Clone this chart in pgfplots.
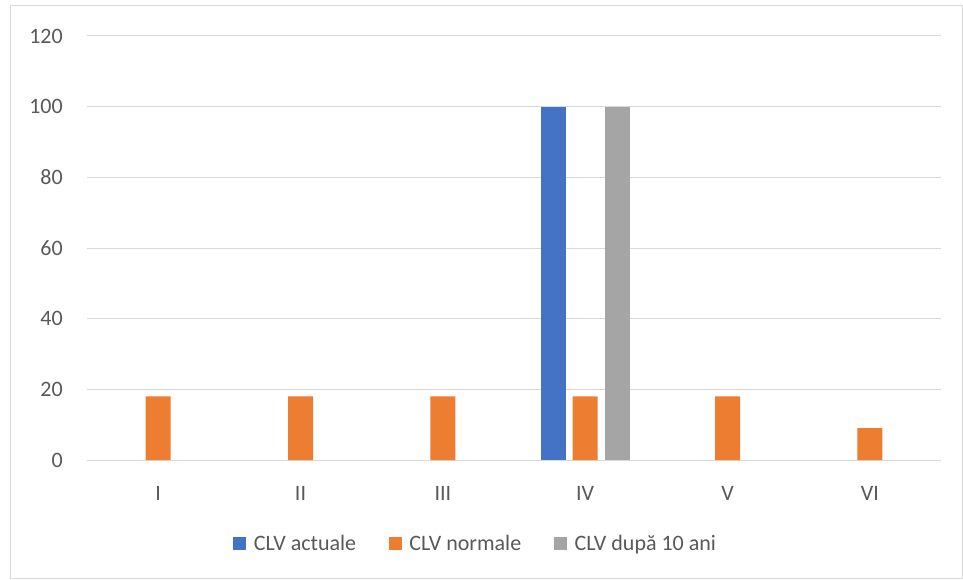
\documentclass[border=0pt]{standalone}
\usepackage{fontspec}
\setmainfont{Carlito}
\usepackage{pgfplots}
\pgfplotsset{compat=1.18}
\definecolor{cblue}{HTML}{4472C4}
\definecolor{corange}{HTML}{ED7D31}
\definecolor{cgray}{HTML}{A5A5A5}
\definecolor{gridc}{HTML}{D9D9D9}
\definecolor{txt}{HTML}{595959}
\begin{document}
\begin{tikzpicture}
\useasboundingbox (0,0) rectangle (722.25pt,434.25pt);
\fill[white] (0,0) rectangle (722.25pt,434.25pt);
\draw[gridc, line width=0.75pt] (7.5pt,0.75pt) rectangle (721.5pt,429.75pt);
\begin{axis}[
  at={(65.25pt,89.25pt)}, anchor=south west,
  scale only axis, width=640.5pt, height=318pt,
  ybar=5.25pt, bar width=18.75pt,
  xmin=-0.5, xmax=5.5, ymin=0, ymax=120,
  xtick={0,1,2,3,4,5},
  xticklabels={I,II,III,IV,V,VI},
  ytick={0,20,40,60,80,100,120},
  separate axis lines,
  axis x line*=bottom, axis y line*=left,
  x axis line style={draw=gridc, line width=0.75pt, -},
  y axis line style={draw=none},
  ymajorgrids, major grid style={draw=gridc, line width=0.75pt},
  major tick length=0pt,
  /pgf/number format/assume math mode=true,
  tick label style={font=\fontsize{16.5}{19}\selectfont, text=txt, inner sep=0pt},
  yticklabel style={anchor=east, xshift=-18pt},
  xticklabel style={anchor=base, yshift=-30pt},
  legend columns=3,
  legend style={at={(axis description cs:0.4555,-0.198)}, anchor=center, draw=none, fill=none,
    font=\fontsize{16.5}{19}\selectfont, text=txt, inner sep=0pt,
    /tikz/every odd column/.append style={column sep=3.75pt},
    /tikz/every even column/.append style={column sep=22.5pt}},
  legend image code/.code={\fill[#1] (0pt,-4.875pt) rectangle (9.75pt,4.875pt);},
  legend cell align=left,
]
\addplot[fill=cblue, draw=none] coordinates {(3,100)};
\addplot[fill=corange, draw=none] coordinates {(0,18) (1,18) (2,18) (3,18) (4,18) (5,9)};
\addplot[fill=cgray, draw=none] coordinates {(3,100)};
\legend{CLV actuale, CLV normale, CLV după 10 ani}
\end{axis}
\end{tikzpicture}
\end{document}
